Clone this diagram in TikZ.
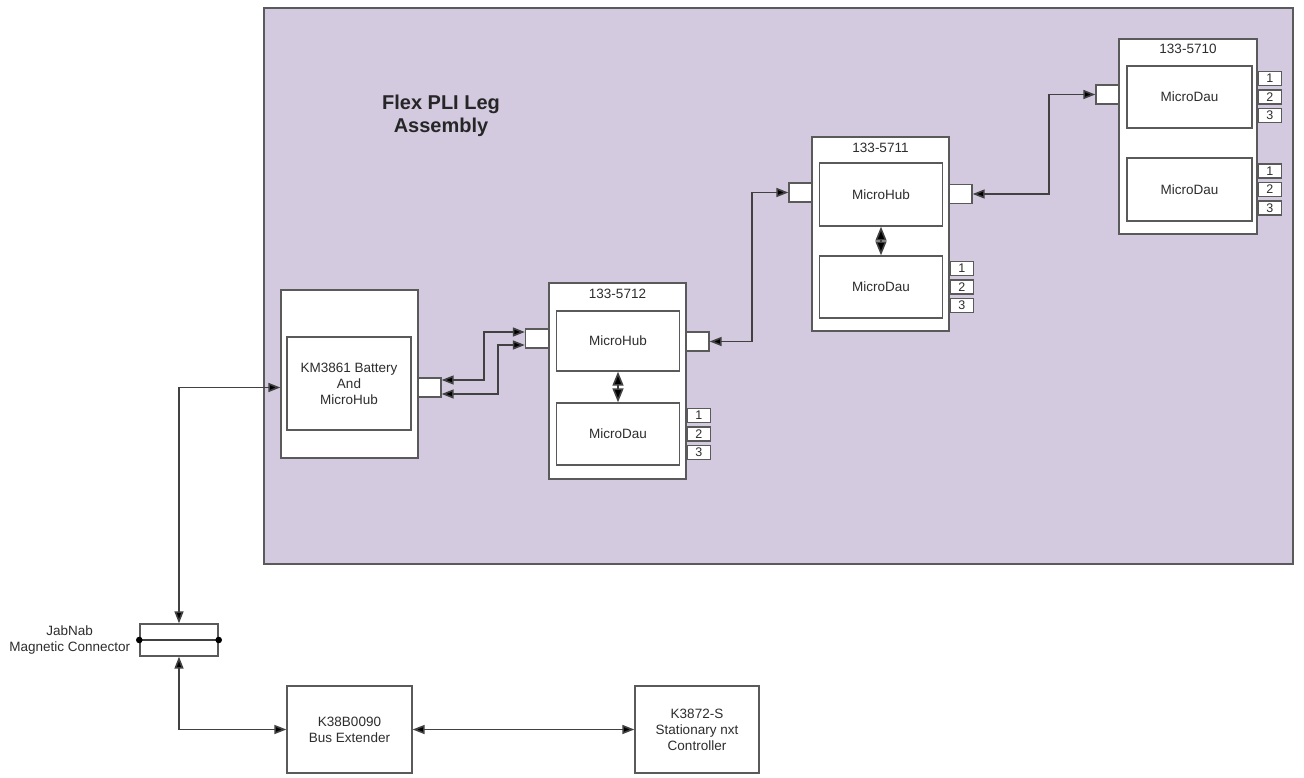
\documentclass[tikz,border=0pt]{standalone}
\usepackage{fontspec}
\setmainfont{Liberation Sans}
\usetikzlibrary{arrows.meta,calc}
\definecolor{panelc}{RGB}{211,202,224}
\definecolor{edgec}{RGB}{90,90,90}
\definecolor{linec}{RGB}{65,65,65}
\definecolor{txtc}{RGB}{45,45,45}
\begin{document}
\begin{tikzpicture}[x=1pt,y=-1pt,
  box/.style={draw=edgec, line width=1.4pt, fill=white, inner sep=0pt, align=center,
    font=\fontsize{13.5}{16}\selectfont, text=txtc},
  outerbox/.style={box, minimum width=137pt},
  innerbox/.style={box, minimum width=123pt},
  port/.style={box, minimum width=23pt, minimum height=19pt},
  numbox/.style={box, minimum width=23pt, minimum height=14pt, anchor=west, font=\fontsize{12.5}{14}\selectfont},
  lbl/.style={inner sep=0pt, align=center, font=\fontsize{13.5}{16}\selectfont, text=txtc},
  link/.style={draw=linec, line width=1.6pt, {Triangle[length=12pt,width=9pt,fill=black]}-{Triangle[length=12pt,width=9pt,fill=black]}},
  thick link/.style={draw=linec, line width=1.6pt, {Triangle[length=14pt,width=11pt,fill=black]}-{Triangle[length=14pt,width=11pt,fill=black]}}
]
\useasboundingbox (0,0) rectangle (1304,778);
% panel
\path[draw=edgec, line width=1.4pt, fill=panelc] (264,8) rectangle (1293,564);
\node[inner sep=0pt, align=center, font=\fontsize{20}{23}\selectfont\bfseries, text=black!85] (title) at (441,116) {Flex PLI Leg\\Assembly};

% KM3861
\node[outerbox, minimum height=168pt] (km) at (349.5,374) {};
\node[innerbox, minimum width=124pt, minimum height=93pt] (kmin) at (349,383.5) {KM3861 Battery\\And\\MicroHub};
\node[port] (kmport) at (429.5,387.5) {};

% 133-5712
\node[outerbox, minimum height=196pt] (o5712) at (617.5,381) {};
\node[lbl] (t5712) at ([yshift=-12pt]o5712.north) {133-5712};
\node[innerbox, minimum height=60pt] (hub5712) at (618,341) {MicroHub};
\node[innerbox, minimum height=62pt] (dau5712) at (618,434) {MicroDau};
\node[port] (p5712l) at (537,338.5) {};
\node[port] (p5712r) at (697.5,341.5) {};
\node[numbox] (n5712a) at ([yshift=18.5pt]o5712.east |- dau5712.east) {1};
\node[numbox] (n5712b) at (o5712.east |- dau5712.east) {2};
\node[numbox] (n5712c) at ([yshift=-18.5pt]o5712.east |- dau5712.east) {3};

% 133-5711
\node[outerbox, minimum height=194pt] (o5711) at (880.5,234) {};
\node[lbl] (t5711) at ([yshift=-12pt]o5711.north) {133-5711};
\node[innerbox, minimum height=63pt] (hub5711) at (881,194.5) {MicroHub};
\node[innerbox, minimum height=62pt] (dau5711) at (881,287) {MicroDau};
\node[port] (p5711l) at (800.5,192.5) {};
\node[port] (p5711r) at (960.5,194) {};
\node[numbox] (n5711a) at ([yshift=18.5pt]o5711.east |- dau5711.east) {1};
\node[numbox] (n5711b) at (o5711.east |- dau5711.east) {2};
\node[numbox] (n5711c) at ([yshift=-18.5pt]o5711.east |- dau5711.east) {3};

% 133-5710
\node[outerbox, minimum width=138pt, minimum height=195pt] (o5710) at (1188,136.5) {};
\node[lbl] (t5710) at ([yshift=-11pt]o5710.north) {133-5710};
\node[innerbox, minimum width=125pt, minimum height=62pt] (daua) at (1189.5,97) {MicroDau};
\node[innerbox, minimum width=125pt, minimum height=63pt] (daub) at (1189.5,189.5) {MicroDau};
\node[port] (p5710) at (1107.5,94.5) {};
\node[numbox] (n5710a) at ([yshift=18.5pt]o5710.east |- daua.east) {1};
\node[numbox] (n5710b) at (o5710.east |- daua.east) {2};
\node[numbox] (n5710c) at ([yshift=-18.5pt]o5710.east |- daua.east) {3};
\node[numbox] (n5710d) at ([yshift=18.5pt]o5710.east |- daub.east) {1};
\node[numbox] (n5710e) at (o5710.east |- daub.east) {2};
\node[numbox] (n5710f) at ([yshift=-18.5pt]o5710.east |- daub.east) {3};

% JabNab connector
\node[box, minimum width=78pt, minimum height=32pt] (jab) at (179,640) {};
\draw[draw=linec, line width=1.4pt] (jab.west) -- (jab.east);
\fill[black] (jab.west) circle (3.3pt) (jab.east) circle (3.3pt);
\node[lbl, anchor=east] (jablbl) at ([xshift=-9pt]jab.west) {JabNab\\Magnetic Connector};

% bottom boxes
\node[box, minimum width=125pt, minimum height=87pt] (ext) at (349.5,729.5) {K38B0090\\Bus Extender};
\node[box, minimum width=124pt, minimum height=87pt] (ctrl) at (697,729.5) {K3872-S\\Stationary nxt\\Controller};

% connectors
\draw[link] (jab.north) |- (km.west |- kmport.center);
\draw[link] (jab.south) |- (ext.west);
\draw[link] (ext.east) -- (ctrl.west);
\draw[link] ([yshift=7.5pt]kmport.east) -- ++(42,0) |- ([yshift=6.5pt]p5712l.west);
\draw[link] ([yshift=-6.5pt]kmport.east) -- ++(56,0) |- ([yshift=-6.5pt]p5712l.west);
\draw[link] (p5712r.east) -- ++(42,0) |- (p5711l.west);
\draw[link] (p5711r.east) -- ++(76,0) |- (p5710.west);
\draw[thick link] (hub5712.south) -- (dau5712.north);
\draw[thick link] (hub5711.south) -- (dau5711.north);
\end{tikzpicture}
\end{document}
